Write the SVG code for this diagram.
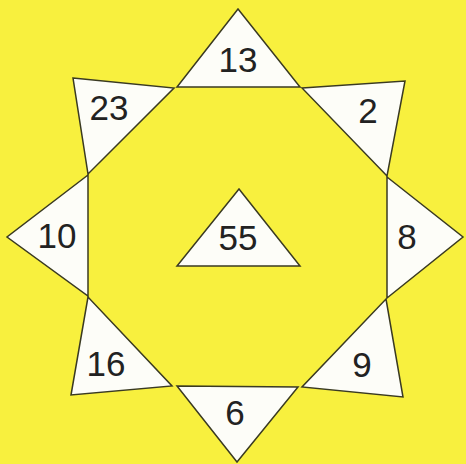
<svg xmlns="http://www.w3.org/2000/svg" width="466" height="464" viewBox="0 0 466 464">
<style>
.t{fill:#fdfdf8;stroke:#3a3a22;stroke-width:1.5;stroke-linejoin:miter}
.n{font-family:"Liberation Sans",Arial,sans-serif;font-size:35px;fill:#222;text-anchor:middle}
</style>
<rect width="466" height="464" fill="#f8f03e"/>
<g id="t13"><polygon class="t" points="238,9 177,87 300,87"/><text class="n" x="238" y="72">13</text></g>
<g id="t23"><polygon class="t" points="73,78 174,88 88,174"/><text class="n" x="109" y="120">23</text></g>
<g id="t2"><polygon class="t" points="302,88 405,81 387,176"/><text class="n" x="368" y="123">2</text></g>
<g id="t10"><polygon class="t" points="88,175 7,237 88,296"/><text class="n" x="57" y="248">10</text></g>
<g id="t8"><polygon class="t" points="387,177 463,237 387,298"/><text class="n" x="407" y="249">8</text></g>
<g id="t16"><polygon class="t" points="88,297 71,395 172,386"/><text class="n" x="106" y="376">16</text></g>
<g id="t9"><polygon class="t" points="386,299 403,397 302,387"/><text class="n" x="362" y="377">9</text></g>
<g id="t6"><polygon class="t" points="177,386 298,387 237,462"/><text class="n" x="235" y="425">6</text></g>
<g id="t55"><polygon class="t" points="239,189 177,266 300,266"/><text class="n" x="238" y="250">55</text></g>
</svg>
